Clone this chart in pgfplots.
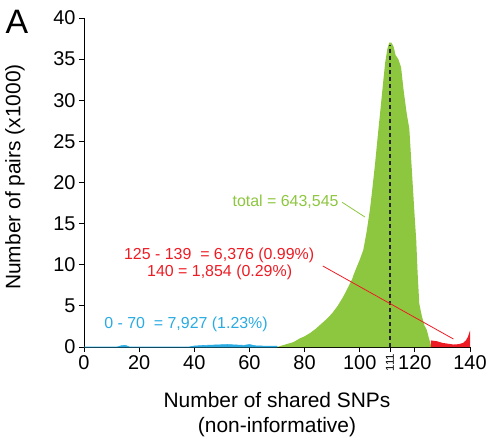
\documentclass[border=0pt]{standalone}
\usepackage{pgfplots}
\pgfplotsset{compat=1.18}
\usepackage{fontspec}
\setmainfont{Liberation Sans}

\definecolor{snpgreen}{RGB}{141,198,63}
\definecolor{snpred}{RGB}{237,28,36}
\definecolor{snpblue}{RGB}{41,171,226}

\begin{document}
\begin{tikzpicture}
  % fix the page to the reference size, origin = axis (0,0)
  \path[use as bounding box] (-84bp,-90bp) rectangle (409bp,347bp);

\begin{axis}[
  scale only axis,
  width=386bp, height=329bp,
  xmin=0, xmax=140, ymin=0, ymax=40,
  axis x line=bottom, axis y line=left,
  axis line style={-, line width=0.8pt},
  tick align=outside,
  major tick length=5bp,
  tick style={black, line width=0.8pt},
  xtick={0,20,...,140},
  ytick={0,5,...,40},
  tick label style={font=\fontsize{20}{20}\selectfont},
  extra x ticks={111},
  extra x tick labels={\normalfont 111},
  extra x tick style={
    xticklabel style={rotate=90, anchor=east, inner sep=1.5bp,
      font=\fontsize{11.5}{11.5}\selectfont},
  },
  /pgf/number format/assume math mode=true,
  clip=false,
]

% 0 - 70 (blue)
\addplot[draw=snpblue, fill=snpblue, line width=0.6pt] coordinates {
  (0,0) (12,0) (13.5,0.15) (15,0.2) (16.5,0) (38,0) (40,0.12) (44,0.2)
  (48,0.25) (52,0.3) (55,0.25) (58,0.2) (60,0.3) (62,0.15) (66,0.1) (70,0.1)
} \closedcycle;

% total (green)
\addplot[draw=none, fill=snpgreen] coordinates {
  (70,0) (71,0.1) (73,0.3) (76,0.6) (78,1.0) (80,1.3) (82,1.7) (84,2.2)
  (86,2.8) (88,3.4) (90,4.1) (92,5.0) (94,6.1) (96,7.4) (97.3,8.3)
  (97.7,8.7) (99,9.8) (100,10.6) (101.3,11.8) (102.5,14) (103.7,16.7)
  (104.5,19) (105.6,22.4) (106.5,25.5) (107.4,28.5) (108.3,31.5)
  (109.2,34.5) (110,36.2) (110.7,37) (111.5,37) (112.3,36.5) (113,35.5)
  (114,35) (115,34) (116,31) (117,28.5) (118,26.5) (119,21) (120,15.5)
  (120.5,13) (121,9) (121.6,5.3) (122.5,3.8) (123.5,2.6) (124.3,2.1)
  (125,1.2) (126,0)
} \closedcycle;

% 125 - 140 (red)
\addplot[draw=none, fill=snpred] coordinates {
  (125.8,0) (125.8,0.8) (127,0.75) (128,0.7) (130,0.5) (132,0.4)
  (134,0.3) (136,0.35) (137.5,0.5) (138.5,0.8) (139.2,1.2) (139.7,1.7)
  (140,2.0) (140,0)
} \closedcycle;

% mode
\addplot[black!85, dash pattern=on 4bp off 3bp, line width=1.1pt]
  coordinates {(111,0) (111,36.7)};

% leader lines
\addplot[snpgreen, line width=0.8pt] coordinates {(93.6,17.6) (101.9,15.8)};
\addplot[snpred, line width=0.8pt] coordinates {(86.6,9.85) (134,0.97)};

\node[text=snpgreen, font=\fontsize{16}{16}\selectfont] at (axis cs:73.1,17.6)
  {total = 643,545};
\node[text=snpred, font=\fontsize{16}{16}\selectfont] at (axis cs:49,11.2)
  {125 - 139 \ = 6,376 (0.99\%)};
\node[text=snpred, font=\fontsize{16}{16}\selectfont] at (axis cs:49.2,9.1)
  {140 = 1,854 (0.29\%)};
\node[text=snpblue, font=\fontsize{16}{16}\selectfont] at (axis cs:37,2.7)
  {0 - 70 \ = 7,927 (1.23\%)};
\end{axis}

\node[font=\fontsize{34}{34}\selectfont] at (-67bp,325bp) {A};
\node[rotate=90, font=\fontsize{21}{21}\selectfont] at (-69bp,170bp)
  {Number of pairs (x1000)};
\node[font=\fontsize{21}{21}\selectfont] at (193bp,-53bp) {Number of shared SNPs};
\node[font=\fontsize{21}{21}\selectfont] at (193bp,-80bp) {(non-informative)};
\end{tikzpicture}
\end{document}
